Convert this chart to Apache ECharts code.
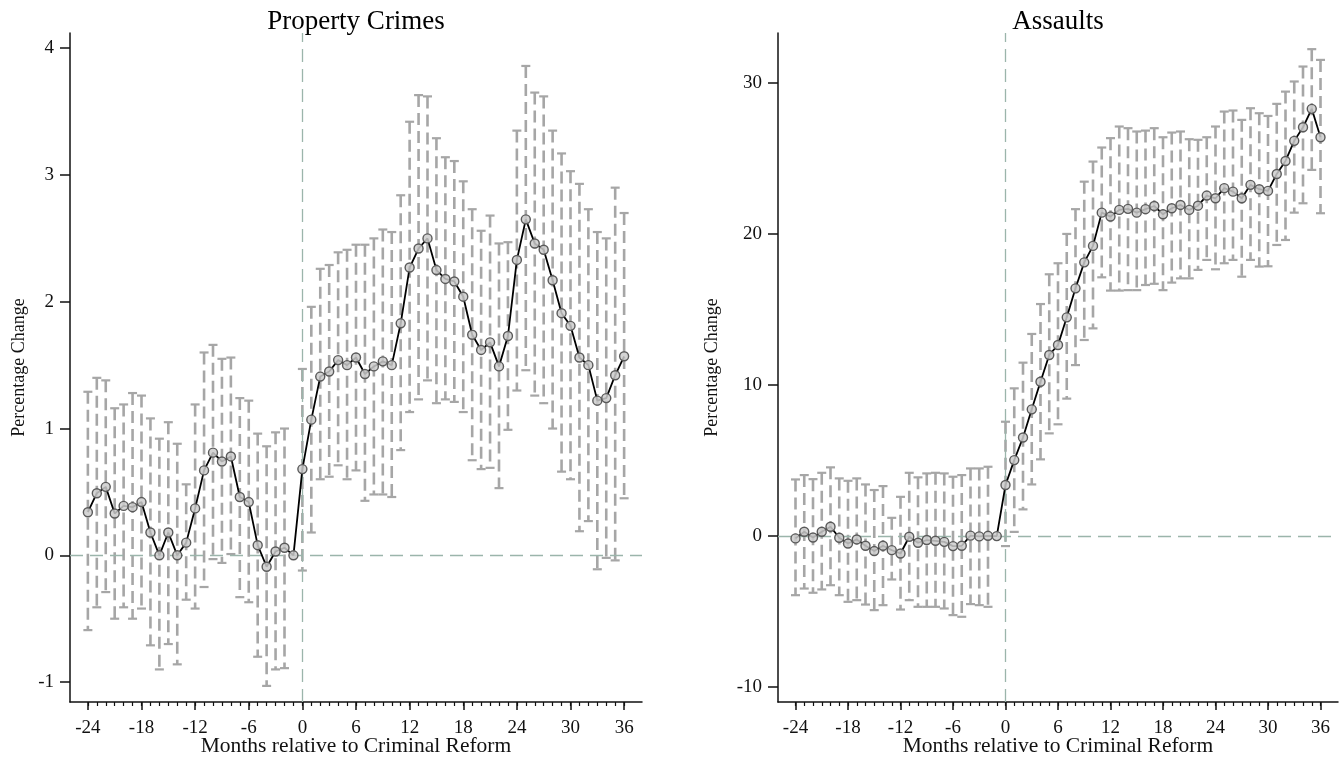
<!DOCTYPE html>
<html>
<head>
<meta charset="utf-8">
<script src="https://cdn.jsdelivr.net/npm/echarts@6/dist/echarts.min.js"></script>
<style>
  html, body { margin: 0; padding: 0; background: #fff; }
  #chart { width: 1342px; height: 759px; }
</style>
</head>
<body>
<div id="chart"></div>
<script>
// Event-study estimates by month relative to the criminal reform (month -1 is the omitted period)
const months = [-24,-23,-22,-21,-20,-19,-18,-17,-16,-15,-14,-13,-12,-11,-10,-9,-8,-7,-6,-5,-4,-3,-2,-1,
  0,1,2,3,4,5,6,7,8,9,10,11,12,13,14,15,16,17,18,19,20,21,22,23,24,25,26,27,28,29,30,31,32,33,34,35,36];

// Property crimes: point estimate and 95% confidence bounds
const propertyEst = [0.34,0.49,0.54,0.33,0.39,0.38,0.42,0.18,0.00,0.18,0.00,0.10,0.37,0.67,0.81,0.74,0.78,0.46,0.42,0.08,-0.09,0.03,0.06,0.00,
  0.68,1.07,1.41,1.45,1.54,1.50,1.56,1.43,1.49,1.53,1.50,1.83,2.27,2.42,2.50,2.25,2.18,2.16,2.04,1.74,1.62,1.68,1.49,1.73,2.33,2.65,2.46,2.41,2.17,1.91,1.81,1.56,1.50,1.22,1.24,1.42,1.57];
const propertyHigh = [1.29,1.40,1.38,1.16,1.19,1.28,1.26,1.08,0.92,1.05,0.88,0.56,1.19,1.60,1.66,1.55,1.56,1.24,1.22,0.96,0.86,0.97,1.00,null,
  1.47,1.96,2.26,2.29,2.39,2.41,2.45,2.45,2.50,2.57,2.55,2.84,3.42,3.63,3.62,3.29,3.14,3.11,2.95,2.73,2.56,2.68,2.46,2.47,3.35,3.86,3.65,3.62,3.35,3.17,3.03,2.93,2.73,2.55,2.50,2.90,2.70];
const propertyLow = [-0.59,-0.41,-0.29,-0.50,-0.41,-0.50,-0.42,-0.71,-0.90,-0.70,-0.86,-0.35,-0.42,-0.25,-0.03,-0.06,0.01,-0.33,-0.37,-0.80,-1.03,-0.90,-0.89,null,
  -0.12,0.18,0.60,0.62,0.71,0.60,0.67,0.43,0.48,0.48,0.46,0.83,1.13,1.23,1.38,1.20,1.23,1.21,1.13,0.75,0.68,0.69,0.53,0.99,1.30,1.46,1.26,1.20,1.00,0.66,0.60,0.19,0.27,-0.11,-0.02,-0.04,0.45];

// Assaults: point estimate and 95% confidence bounds
const assaultEst = [-0.15,0.29,-0.09,0.29,0.62,-0.11,-0.49,-0.22,-0.64,-0.99,-0.64,-0.93,-1.15,-0.04,-0.44,-0.26,-0.31,-0.38,-0.66,-0.64,0.03,-0.02,0.02,0.00,
  3.38,5.03,6.53,8.39,10.22,11.99,12.65,14.48,16.40,18.12,19.21,21.41,21.15,21.59,21.66,21.41,21.64,21.85,21.30,21.70,21.92,21.59,21.87,22.54,22.36,23.03,22.80,22.36,23.25,22.96,22.85,23.97,24.83,26.16,27.06,28.28,26.40];
const assaultHigh = [3.75,4.04,3.77,4.19,4.55,3.82,3.66,3.82,3.42,3.05,3.31,1.21,2.60,4.19,3.89,4.15,4.19,4.15,3.93,4.04,4.48,4.48,4.59,null,
  7.57,9.78,11.48,13.38,15.36,17.33,18.06,20.00,21.64,23.46,24.79,25.72,26.34,27.11,27.00,26.78,26.84,27.00,26.40,26.71,26.78,26.27,26.23,26.40,27.11,28.10,28.17,27.55,28.32,27.99,27.81,28.61,29.42,30.09,31.08,32.23,31.52];
const assaultLow = [-3.91,-3.47,-3.75,-3.53,-3.25,-3.91,-4.35,-4.24,-4.53,-4.90,-4.57,-2.87,-4.86,-4.24,-4.68,-4.68,-4.68,-4.79,-5.23,-5.34,-4.50,-4.57,-4.68,null,
  -0.66,0.28,1.77,3.42,5.08,6.80,7.40,9.10,11.32,12.98,13.75,17.13,16.25,16.25,16.28,16.28,16.62,16.70,16.28,16.78,17.06,17.06,17.62,18.28,17.66,18.06,18.28,17.17,18.28,17.84,17.86,19.27,19.60,21.41,22.03,24.24,21.37];

// Axis labels
const monthTicks = [-24,-18,-12,-6,0,6,12,18,24,30,36];
const propertyTicks = [-1,0,1,2,3,4];
const assaultTicks = [-10,0,10,20,30];
const panelTitles = ['Property Crimes', 'Assaults'];
const xTitle = 'Months relative to Criminal Reform';
const yTitle = 'Percentage Change';

const SERIF = '"Liberation Serif", "Times New Roman", serif';
const INK = '#111';
const BAR = '#a6a6a6';
const REF = '#9bb5ab';

// Capped, dashed confidence interval for one month
function renderInterval(params, api) {
  const lo = api.value(1), hi = api.value(2);
  if (isNaN(lo) || isNaN(hi)) return null;
  const top = api.coord([api.value(0), hi]);
  const bot = api.coord([api.value(0), lo]);
  const w = 4.5;
  const solid = { stroke: BAR, lineWidth: 2.2, fill: null };
  return {
    type: 'group',
    children: [
      { type: 'line', shape: { x1: top[0], y1: top[1], x2: bot[0], y2: bot[1] },
        style: { stroke: BAR, lineWidth: 2.6, lineDash: [12, 6], fill: null } },
      { type: 'line', shape: { x1: top[0] - w, y1: top[1], x2: top[0] + w, y2: top[1] }, style: solid },
      { type: 'line', shape: { x1: bot[0] - w, y1: bot[1], x2: bot[0] + w, y2: bot[1] }, style: solid }
    ]
  };
}

function intervalData(low, high) {
  return months.map((m, i) => [m, low[i] === null ? '-' : low[i], high[i] === null ? '-' : high[i]]);
}
function pointData(est) {
  return months.map((m, i) => [m, est[i]]);
}

const grids = [
  { left: 70, top: 33, width: 572, height: 669, outerBoundsMode: 'none', containLabel: false },
  { left: 778, top: 33, width: 560, height: 669, outerBoundsMode: 'none', containLabel: false }
];
const yRanges = [[-1.157, 4.12], [-10.98, 33.3]];
const yTicks = [propertyTicks, assaultTicks];
const yNameGap = [42, 57];

const xAxes = [], yAxes = [], series = [], titles = [];
grids.forEach((g, k) => {
  titles.push({
    text: panelTitles[k],
    left: g.left + g.width / 2 - 5,
    top: 3,
    textAlign: 'center',
    textStyle: { fontFamily: SERIF, fontSize: 27, fontWeight: 'normal', color: '#000' }
  });
  // main month axis with minor ticks and labels
  xAxes.push({
    gridIndex: k, type: 'value', position: 'bottom', min: -26, max: 38,
    axisLine: { show: true, onZero: false, lineStyle: { color: INK, width: 1.5 } },
    axisTick: { show: true, customValues: months, length: 4, lineStyle: { color: INK, width: 1.2 } },
    axisLabel: { customValues: monthTicks, margin: 17, fontFamily: SERIF, fontSize: 19, color: INK },
    splitLine: { show: false },
    name: xTitle, nameLocation: 'middle', nameGap: 33, nameMoveOverlap: false,
    nameTextStyle: { fontFamily: SERIF, fontSize: 21.5, color: INK }
  });
  // overlay axis carrying the longer major ticks
  xAxes.push({
    gridIndex: k, type: 'value', position: 'bottom', min: -26, max: 38,
    axisLine: { show: false, onZero: false },
    axisTick: { show: true, customValues: monthTicks, length: 8, lineStyle: { color: INK, width: 1.5 } },
    axisLabel: { show: false },
    splitLine: { show: false }
  });
  yAxes.push({
    gridIndex: k, type: 'value', min: yRanges[k][0], max: yRanges[k][1],
    axisLine: { show: true, onZero: false, lineStyle: { color: INK, width: 1.5 } },
    axisTick: { show: true, customValues: yTicks[k], length: 10, lineStyle: { color: INK, width: 1.5 } },
    axisLabel: { customValues: yTicks[k], margin: 16, fontFamily: SERIF, fontSize: 19, color: INK },
    splitLine: { show: false },
    name: yTitle, nameLocation: 'middle', nameGap: yNameGap[k], nameMoveOverlap: false,
    nameTextStyle: { fontFamily: SERIF, fontSize: 18, color: INK }
  });
});

const panels = [
  { est: propertyEst, low: propertyLow, high: propertyHigh },
  { est: assaultEst, low: assaultLow, high: assaultHigh }
];
panels.forEach((p, k) => {
  series.push({
    type: 'custom',
    xAxisIndex: 2 * k, yAxisIndex: k,
    renderItem: renderInterval,
    encode: { x: 0, y: [1, 2] },
    data: intervalData(p.low, p.high),
    silent: true, z: 2,
    markLine: {
      silent: true, symbol: 'none', label: { show: false },
      lineStyle: { color: REF, width: 1.3, type: [13, 7] },
      data: [{ xAxis: 0 }, { yAxis: 0 }]
    }
  });
  series.push({
    type: 'line',
    xAxisIndex: 2 * k, yAxisIndex: k,
    data: pointData(p.est),
    symbol: 'circle', symbolSize: 9,
    lineStyle: { color: '#000', width: 1.8 },
    itemStyle: { color: 'rgba(205,205,205,0.85)', borderColor: '#5a5a5a', borderWidth: 1.4 },
    z: 5, silent: true, animation: false
  });
});

const chart = echarts.init(document.getElementById('chart'), null, { renderer: 'canvas' });
chart.setOption({
  animation: false,
  backgroundColor: '#fff',
  title: titles,
  grid: grids,
  xAxis: xAxes,
  yAxis: yAxes,
  series: series
});
</script>
</body>
</html>
